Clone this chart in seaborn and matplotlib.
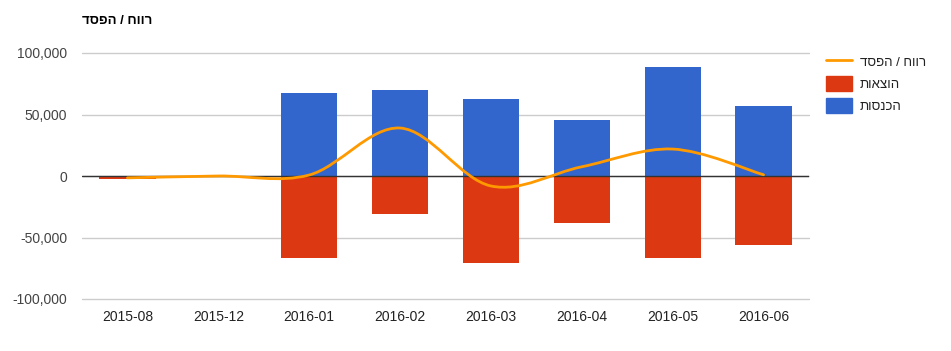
import seaborn as sns
import matplotlib.pyplot as plt
import numpy as np
import pandas as pd
from matplotlib.path import Path
from matplotlib.patches import PathPatch
from matplotlib.lines import Line2D
from matplotlib.patches import Patch
from matplotlib.ticker import FuncFormatter

months = ['2015-08', '2015-12', '2016-01', '2016-02', '2016-03', '2016-04', '2016-05', '2016-06']
income = [0, 0, 67500, 70000, 62600, 45500, 88600, 57000]
expenses = [-2200, 0, -66700, -31000, -70700, -38000, -66700, -56000]
profit = [-1500, 0, 800, 39000, -8100, 7500, 21900, 1000]

title = 'רווח / הפסד'
lbl_profit = 'רווח / הפסד'
lbl_exp = 'הוצאות'
lbl_inc = 'הכנסות'

BLUE = '#3366cc'
RED = '#dc3912'
ORANGE = '#ff9900'


def rtl(s):
    # matplotlib has no bidi support, flip hebrew for display
    return s[::-1]


sns.set_style('white')
plt.rcParams['font.family'] = ['Liberation Sans', 'DejaVu Sans']

df = pd.DataFrame({
    'month': months * 2,
    'value': income + expenses,
    'series': ['inc'] * len(months) + ['exp'] * len(months),
})

fig = plt.figure(figsize=(9.51, 3.51), dpi=100)
ax = fig.add_axes([82 / 951, 52 / 351, 727 / 951, 246 / 351])

sns.barplot(data=df, x='month', y='value', hue='series', dodge=False,
            palette={'inc': BLUE, 'exp': RED}, width=0.62, ax=ax,
            legend=False, saturation=1, errorbar=None, linewidth=0)

# smooth curve through profit points (bezier, catmull-rom style)
xs = np.arange(len(months), dtype=float)
ys = np.array(profit, dtype=float)
verts = [(xs[0], ys[0])]
codes = [Path.MOVETO]
n = len(xs)
for i in range(n - 1):
    p0 = (xs[max(i - 1, 0)], ys[max(i - 1, 0)])
    p1 = (xs[i], ys[i])
    p2 = (xs[i + 1], ys[i + 1])
    p3 = (xs[min(i + 2, n - 1)], ys[min(i + 2, n - 1)])
    c1 = (p1[0] + (p2[0] - p0[0]) / 6, p1[1] + (p2[1] - p0[1]) / 6)
    c2 = (p2[0] - (p3[0] - p1[0]) / 6, p2[1] - (p3[1] - p1[1]) / 6)
    verts += [c1, c2, p2]
    codes += [Path.CURVE4] * 3
ax.add_patch(PathPatch(Path(verts, codes), facecolor='none', edgecolor=ORANGE,
                       lw=2, zorder=5, capstyle='round'))

ax.set_xlim(-0.5, 7.5)
ax.set_ylim(-100000, 100000)
ax.set_yticks([-100000, -50000, 0, 50000, 100000])
ax.yaxis.set_major_formatter(FuncFormatter(lambda v, p: f'{int(v):,}'))
ax.grid(axis='y', color='#cccccc', lw=1)
for gl in ax.get_ygridlines():
    gl.set_clip_on(False)
ax.set_axisbelow(True)
ax.axhline(0, color='#333333', lw=1, zorder=4)
for s in ax.spines.values():
    s.set_visible(False)
ax.tick_params(axis='both', length=0, labelsize=10, colors='#222222', pad=8)
ax.tick_params(axis='y', pad=10.5, colors='#444444')
ax.set_xlabel('')
ax.set_ylabel('')

fig.text(82 / 951, 1 - 21 / 351, rtl(title), fontsize=9.5, fontweight='bold',
         va='center', ha='left', color='#000000')

handles = [Line2D([], [], color=ORANGE, lw=2),
           Patch(color=RED), Patch(color=BLUE)]
fig.legend(handles, [rtl(lbl_profit), rtl(lbl_exp), rtl(lbl_inc)],
           loc='upper left', bbox_to_anchor=(819 / 951, 1 - 48 / 351),
           frameon=False, fontsize=9.5, handlelength=2.0, handleheight=1.3,
           labelspacing=0.55, handletextpad=0.6, borderpad=0,
           labelcolor='#222222')

fig.savefig('out.png', dpi=100)
